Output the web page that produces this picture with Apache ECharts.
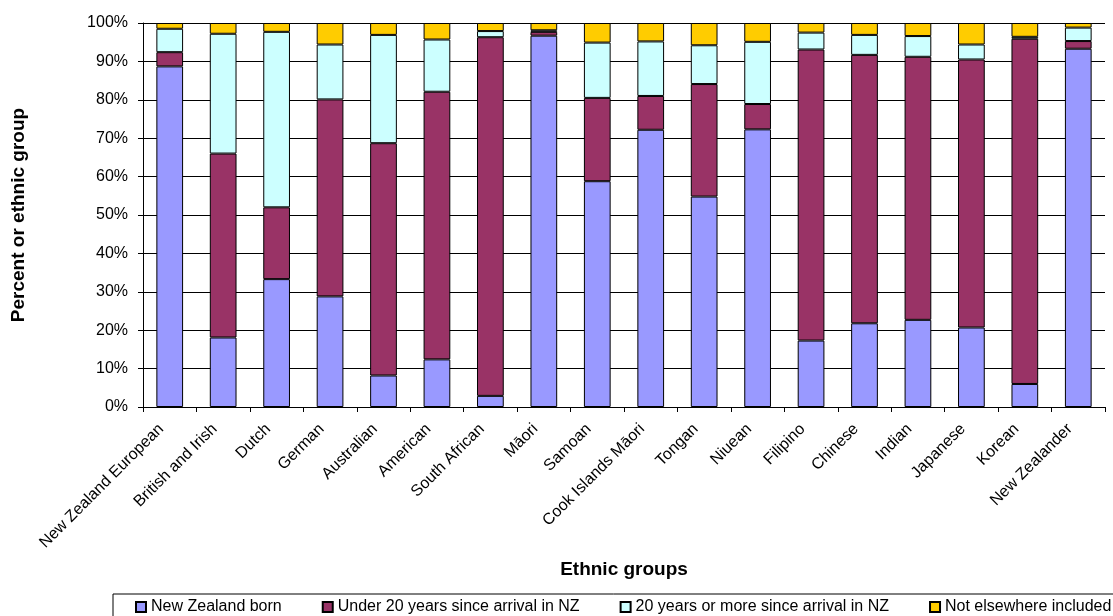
<!DOCTYPE html>
<html>
<head>
<meta charset="utf-8">
<script src="https://cdn.jsdelivr.net/npm/echarts@6/dist/echarts.min.js"></script>
<style>
html,body{margin:0;padding:0;background:#fff;}
#chart{width:1113px;height:616px;}
</style>
</head>
<body>
<div id="chart"></div>
<script>
var categories = ["New Zealand European","British and Irish","Dutch","German","Australian","American","South African","Māori","Samoan","Cook Islands Māori","Tongan","Niuean","Filipino","Chinese","Indian","Japanese","Korean","New Zealander"];
var nzBorn      = [88.7, 18.1, 33.3, 28.8,  8.2, 12.4,  2.9, 96.7, 58.8, 72.2, 54.8, 72.3, 17.3, 21.8, 22.7, 20.7,  6.0, 93.3];
var under20     = [ 3.7, 47.9, 18.7, 51.3, 60.5, 69.7, 93.4,  1.0, 21.7,  8.8, 29.3,  6.6, 75.8, 69.9, 68.5, 69.8, 89.9,  2.0];
var over20      = [ 6.1, 31.2, 45.7, 14.3, 28.2, 13.6,  1.6,  0.4, 14.4, 14.2, 10.1, 16.2,  4.4,  5.2,  5.4,  3.9,  0.5,  3.5];
var notIncluded = [ 1.5,  2.8,  2.3,  5.6,  3.1,  4.3,  2.1,  1.9,  5.1,  4.8,  5.8,  4.9,  2.5,  3.1,  3.4,  5.6,  3.6,  1.2];
var seriesNames = ["New Zealand born","Under 20 years since arrival in NZ","20 years or more since arrival in NZ","Not elsewhere included"];
var seriesColors = ["#9999FF","#993366","#CCFFFF","#FFCC00"];
var seriesData = [nzBorn, under20, over20, notIncluded];

var font = "'Liberation Sans', Arial, sans-serif";
var chart = echarts.init(document.getElementById('chart'), null, {renderer:'canvas'});
var series = seriesNames.map(function(n, i){
  return {
    name: n, type: 'bar', stack: 'total', barWidth: '50%',
    data: seriesData[i],
    itemStyle: {color: seriesColors[i], borderColor: '#000', borderWidth: 1},
    emphasis: {disabled: true},
    animation: false
  };
});
chart.setOption({
  animation: false,
  textStyle: {fontFamily: font},
  grid: {left: 143, right: 8, top: 23, bottom: 209, containLabel: false},
  legend: {
    left: 113, top: 594, width: 1000,
    padding: [5, 30, 8, 22],
    borderColor: '#000', borderWidth: 1,
    itemWidth: 10, itemHeight: 10, itemGap: 40,
    icon: 'rect',
    selectedMode: false,
    textStyle: {fontFamily: font, fontSize: 16, color: '#000'},
    data: seriesNames
  },
  xAxis: {
    type: 'category', data: categories,
    name: 'Ethnic groups', nameLocation: 'middle', nameGap: 153,
    nameTextStyle: {fontFamily: font, fontSize: 19, fontWeight: 'bold', color: '#000'},
    axisLine: {show: true, lineStyle: {color: '#000', width: 1}},
    axisTick: {show: true, length: 5, lineStyle: {color: '#000'}},
    axisLabel: {rotate: 45, interval: 0, margin: 11, padding: [0, 12, 0, 0], fontSize: 16, color: '#000', fontFamily: font},
    splitLine: {show: false}
  },
  yAxis: {
    type: 'value', min: 0, max: 100, interval: 10,
    name: 'Percent or ethnic group', nameLocation: 'middle', nameGap: 115, nameRotate: 90,
    nameTextStyle: {fontFamily: font, fontSize: 19, fontWeight: 'bold', color: '#000'},
    axisLine: {show: true, lineStyle: {color: '#000', width: 1}},
    axisTick: {show: true, length: 5, lineStyle: {color: '#000'}},
    axisLabel: {formatter: '{value}%', margin: 15, fontSize: 16, color: '#000', fontFamily: font},
    splitLine: {show: true, lineStyle: {color: '#000', width: 1}}
  },
  series: series
});
</script>
</body>
</html>
